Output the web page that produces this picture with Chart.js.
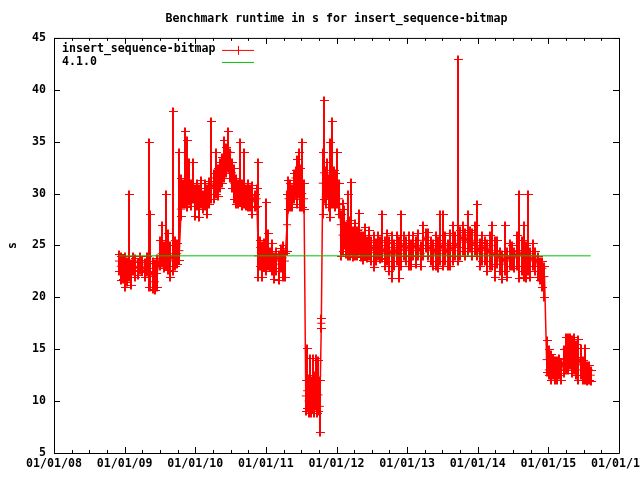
<!DOCTYPE html>
<html>
<head>
<meta charset="utf-8">
<title>Benchmark runtime in s for insert_sequence-bitmap</title>
<script src="https://cdn.jsdelivr.net/npm/chart.js@4.4.1/dist/chart.umd.min.js"></script>
<style>
  html, body { margin: 0; padding: 0; background: #fff; }
</style>
</head>
<body>
<canvas id="bench-chart" width="640" height="480"></canvas>
<script>
'use strict';

// *************** DATA (dates as decimal years)
let runYears = [
  2008.920, 2008.945, 2008.975, 2009.000, 2009.030, 2009.060, 2009.090, 2009.120, 2009.150, 2009.185,
  2009.215, 2009.250, 2009.285, 2009.320, 2009.345, 2009.365, 2009.400, 2009.430, 2009.460,
  2009.495, 2009.525, 2009.555, 2009.585, 2009.615, 2009.645, 2009.685, 2009.715, 2009.745, 2009.775,
  2009.800, 2009.830, 2009.860, 2009.885, 2009.910, 2009.940, 2009.965, 2009.995, 2010.020, 2010.050,
  2010.080, 2010.110, 2010.140, 2010.170, 2010.200,
  2010.230, 2010.260, 2010.290, 2010.320, 2010.350, 2010.380, 2010.410, 2010.440, 2010.465, 2010.490,
  2010.520, 2010.550, 2010.580,
  2010.610, 2010.630, 2010.660, 2010.690, 2010.720, 2010.750, 2010.780, 2010.810, 2010.840, 2010.870,
  2010.895, 2010.920, 2010.950, 2010.980, 2011.005, 2011.030, 2011.060, 2011.090, 2011.120, 2011.150,
  2011.180, 2011.210, 2011.240, 2011.270,
  2011.300, 2011.320, 2011.345, 2011.370, 2011.395, 2011.420, 2011.440, 2011.465, 2011.490, 2011.515,
  2011.540,
  2011.565, 2011.585, 2011.605, 2011.625, 2011.645, 2011.665, 2011.685, 2011.705, 2011.725, 2011.745,
  2011.765, 2011.785,
  2011.805, 2011.825, 2011.845, 2011.870, 2011.895, 2011.915, 2011.935, 2011.960, 2011.985, 2012.010,
  2012.035,
  2012.060, 2012.085, 2012.110, 2012.135, 2012.160, 2012.185, 2012.210, 2012.235, 2012.265, 2012.290,
  2012.315, 2012.345, 2012.375, 2012.405, 2012.435, 2012.465, 2012.495, 2012.525, 2012.555, 2012.585,
  2012.615,
  2012.645, 2012.680, 2012.715, 2012.750, 2012.785, 2012.820, 2012.855, 2012.890, 2012.915, 2012.950,
  2012.985, 2013.020, 2013.055, 2013.090, 2013.125, 2013.160, 2013.195, 2013.230, 2013.265, 2013.300,
  2013.335, 2013.370, 2013.405, 2013.440, 2013.470, 2013.505, 2013.540, 2013.575, 2013.610, 2013.645,
  2013.680, 2013.720, 2013.755, 2013.790, 2013.825, 2013.855, 2013.890, 2013.925, 2013.960, 2013.995,
  2014.030, 2014.065, 2014.100, 2014.135, 2014.170, 2014.205, 2014.240, 2014.275, 2014.310, 2014.345,
  2014.380, 2014.415, 2014.450, 2014.485, 2014.520, 2014.555, 2014.590, 2014.625, 2014.660, 2014.690,
  2014.715, 2014.745, 2014.780, 2014.815, 2014.850, 2014.885, 2014.915, 2014.945,
  2014.975, 2015.005, 2015.035, 2015.065, 2015.095, 2015.125, 2015.155, 2015.185, 2015.215, 2015.245,
  2015.275, 2015.305, 2015.335, 2015.365, 2015.395, 2015.425, 2015.455, 2015.485, 2015.515, 2015.545,
  2015.575, 2015.600
];

let runMean = [
  23.5, 23.0, 22.5, 23.2, 22.6, 23.0, 22.3, 23.4, 23.0, 22.8,
  23.5, 23.0, 22.6, 23.2, 22.8, 22.5, 22.0, 21.5, 22.3,
  24.0, 24.2, 23.8, 24.3, 24.0, 23.5, 24.2, 23.8, 24.2, 24.5,
  28.5, 30.0, 30.5, 29.5, 30.8, 29.8, 30.5, 29.2, 30.0, 29.5,
  30.2, 29.3, 30.0, 29.5, 30.5,
  30.5, 31.0, 31.5, 31.0, 32.0, 32.5, 33.0, 33.5, 34.0, 33.0,
  32.0, 31.0, 30.5,
  30.0, 30.8, 29.8, 30.2, 29.5, 30.0, 29.3, 29.8, 29.2, 29.5,
  24.0, 24.8, 23.5, 24.2, 23.8, 24.5, 23.5, 24.0, 23.2, 24.0,
  23.5, 24.2, 23.8, 23.5,
  27.0, 29.5, 30.2, 29.5, 30.8, 31.5, 30.5, 32.0, 31.0, 30.0,
  29.5,
  10.5, 11.0, 10.0, 10.8, 9.8, 10.5, 10.2, 11.0, 10.0, 10.6,
  9.5, 17.5,
  31.0, 32.0, 31.0, 32.0, 30.0, 29.5, 30.5, 31.5, 30.0, 31.0,
  29.5,
  27.0, 26.0, 27.0, 25.5, 26.5, 25.5, 26.0, 25.0, 26.0, 25.2,
  26.5, 25.0, 24.5, 25.5, 24.8, 25.3, 24.5, 25.0, 24.3, 25.0,
  24.5,
  25.0, 24.2, 25.3, 24.0, 24.8, 24.0, 25.0, 24.2, 24.6, 25.2,
  24.5, 25.0, 24.0, 25.2, 24.5, 25.0, 24.2, 25.5, 25.8, 25.0,
  24.5, 24.0, 25.0, 24.2, 25.2, 24.5, 25.0, 24.0, 25.0, 24.5,
  25.2, 24.8, 25.5, 26.0, 25.3, 25.8, 26.0, 25.0, 25.5, 25.0,
  24.2, 25.0, 24.5, 24.0, 25.0, 24.3, 24.0, 24.5, 23.5, 23.2,
  24.0, 23.5, 24.0, 24.0, 23.8, 24.5, 24.0, 24.5, 24.0, 23.5,
  24.2, 23.5, 24.0, 24.0, 23.0, 22.5, 22.8, 22.0,
  14.0, 13.0, 13.5, 13.0, 13.2, 12.8, 13.5, 13.0, 14.0, 15.0,
  14.5, 15.2, 14.0, 14.8, 14.0, 13.5, 14.2, 13.0, 13.5, 12.8,
  13.0, 12.5
];

let runMin = [
  22.5, 21.7, 21.8, 21.0, 21.5, 22.0, 21.2, 22.5, 22.0, 22.2,
  22.6, 22.5, 22.0, 22.4, 21.0, 21.0, 20.8, 20.7, 21.0,
  23.0, 23.3, 22.8, 23.0, 22.6, 22.0, 22.5, 23.0, 23.2, 23.6,
  27.8, 29.0, 29.0, 28.7, 29.3, 28.8, 29.5, 27.8, 28.8, 27.7,
  29.0, 28.5, 28.8, 28.0, 29.0,
  29.5, 29.5, 30.0, 29.8, 30.5, 31.0, 31.5, 32.0, 32.5, 31.5,
  30.5, 29.5, 29.0,
  29.0, 29.2, 28.8, 29.0, 28.8, 28.7, 28.7, 28.0, 28.7, 28.8,
  22.0, 23.0, 22.0, 22.9, 22.5, 23.0, 22.9, 22.5, 21.8, 22.5,
  21.7, 22.8, 22.0, 22.0,
  24.5, 28.5, 28.7, 28.7, 29.5, 30.0, 29.0, 30.0, 28.7, 28.7,
  28.5,
  9.0, 9.3, 8.9, 9.0, 8.9, 9.2, 8.9, 9.5, 8.9, 9.0,
  7.0, 17.0,
  28.0, 29.5, 29.0, 30.0, 28.7, 27.7, 29.0, 29.0, 28.7, 29.0,
  28.0,
  24.0, 24.5, 25.0, 24.2, 24.0, 24.0, 24.5, 23.9, 24.0, 24.0,
  24.5, 23.9, 23.6, 24.0, 23.8, 24.0, 23.5, 22.9, 23.5, 24.0,
  23.7,
  23.8, 23.0, 23.5, 22.5, 21.9, 23.0, 23.5, 21.9, 23.0, 24.0,
  23.5, 23.0, 23.0, 24.0, 23.2, 24.0, 23.0, 24.0, 24.8, 24.0,
  23.5, 23.0, 23.0, 22.8, 23.5, 23.0, 23.5, 23.0, 23.0, 23.5,
  24.0, 23.5, 24.0, 24.5, 24.0, 24.5, 24.8, 24.0, 24.5, 24.0,
  23.0, 23.5, 23.5, 22.5, 23.0, 23.0, 22.0, 23.2, 22.5, 21.8,
  22.5, 22.0, 23.0, 23.0, 22.8, 23.0, 21.9, 22.5, 22.0, 21.9,
  22.5, 22.0, 23.0, 22.5, 22.0, 21.7, 21.0, 20.0,
  12.8, 12.5, 12.0, 12.5, 12.0, 12.0, 12.5, 12.0, 12.7, 13.0,
  13.0, 13.5, 12.7, 13.0, 12.5, 12.0, 12.5, 12.0, 12.0, 11.9,
  12.0, 11.9
];

let runMax = [
  24.2, 24.0, 23.8, 24.0, 23.5, 30.0, 23.3, 24.0, 23.8, 23.4,
  24.0, 23.6, 23.4, 24.0, 35.0, 28.0, 23.5, 23.3, 23.8,
  25.5, 27.0, 25.0, 30.0, 26.2, 25.0, 38.0, 25.5, 25.2, 34.0,
  31.5, 31.0, 36.0, 35.2, 33.0, 31.0, 33.0, 30.5, 31.0, 30.5,
  31.3, 30.0, 31.0, 30.5, 31.2,
  37.0, 32.0, 34.0, 32.5, 33.0, 33.5, 35.2, 34.5, 36.0, 34.0,
  33.0, 32.5, 31.5,
  31.0, 35.0, 31.0, 34.0, 30.5, 31.0, 30.5, 30.8, 30.0, 30.5,
  33.0, 25.5, 25.0, 25.3, 29.2, 26.2, 24.5, 25.2, 24.0, 24.5,
  24.2, 24.8, 25.0, 24.3,
  30.0, 31.3, 31.0, 30.5, 32.0, 32.3, 33.3, 34.0, 32.5, 35.0,
  31.0,
  12.0, 15.1, 12.2, 14.2, 12.0, 14.2, 12.5, 14.2, 12.0, 14.0,
  12.0, 18.0,
  34.0, 39.0, 32.3, 33.0, 31.5, 35.0, 37.0, 32.3, 32.0, 34.0,
  31.0,
  28.0, 29.1, 28.5, 27.0, 30.0, 27.5, 31.1, 26.5, 27.2, 26.5,
  28.1, 26.0, 26.0, 26.8, 25.5, 26.5, 25.5, 26.0, 25.3, 26.0,
  25.5,
  28.0, 25.5, 26.2, 25.5, 26.0, 25.2, 26.0, 25.5, 28.0, 26.0,
  25.5, 26.0, 25.2, 26.0, 25.5, 26.2, 25.0, 27.0, 26.3, 26.3,
  25.5, 25.2, 26.0, 25.5, 28.0, 28.0, 26.0, 25.2, 26.2, 27.0,
  26.0, 43.0, 26.5, 27.0, 26.3, 28.0, 26.5, 26.3, 27.0, 29.0,
  25.3, 26.0, 25.5, 25.2, 26.0, 27.0, 25.5, 25.5, 24.5, 24.2,
  27.0, 24.5, 25.2, 25.0, 24.5, 26.0, 30.0, 25.5, 27.0, 25.0,
  30.0, 24.5, 25.2, 24.5, 24.0, 23.5, 23.5, 23.0,
  15.9, 15.0, 14.5, 14.2, 14.0, 14.0, 14.2, 13.8, 15.0, 16.2,
  16.2, 16.2, 16.0, 16.2, 15.5, 16.0, 15.1, 14.0, 15.1, 13.5,
  13.5, 13.0
];

// release 4.1.0 reference runtime
let baselineValue = 24;

// tick labels
let yearTicks = [2008, 2009, 2010, 2011, 2012, 2013, 2014, 2015, 2016];
let valueTicks = [5, 10, 15, 20, 25, 30, 35, 40, 45];

// *************** STYLE
const RED = '#ff0000';
const GREEN = '#00c000';
const FONT = { family: '"DejaVu Sans Mono", "Liberation Mono", monospace', size: 11.6, weight: 'bold' };
const FONT_CSS = 'bold 11.6px "DejaVu Sans Mono", "Liberation Mono", monospace';

let ctx = document.getElementById('bench-chart');

// *************** PLUGINS

// min/max bars with + caps, under the lines
const errorBars = {
  id: 'errorBars',
  beforeDatasetsDraw(chart) {
    let c = chart.ctx;
    let x = chart.scales.x;
    let y = chart.scales.y;
    c.save();
    c.strokeStyle = RED;
    // vertical bars a bit heavier so dense runs fill in like the gnuplot png
    c.lineWidth = 2;
    c.beginPath();
    for (let i = 0; i < runYears.length; i++) {
      let px = Math.round(x.getPixelForValue(runYears[i]));
      let top = Math.round(y.getPixelForValue(runMax[i])) + 0.5;
      let bot = Math.round(y.getPixelForValue(runMin[i])) + 0.5;
      c.moveTo(px, top - 4);
      c.lineTo(px, bot + 4);
    }
    c.stroke();
    c.lineWidth = 1;
    c.beginPath();
    for (let i = 0; i < runYears.length; i++) {
      let px = Math.round(x.getPixelForValue(runYears[i]));
      let top = Math.round(y.getPixelForValue(runMax[i])) + 0.5;
      let bot = Math.round(y.getPixelForValue(runMin[i])) + 0.5;
      c.moveTo(px - 4, top);
      c.lineTo(px + 5, top);
      c.moveTo(px - 4, bot);
      c.lineTo(px + 5, bot);
    }
    c.stroke();
    c.restore();
  }
};

// gnuplot style frame: border box, inward tics mirrored, key in top left
const frameAndKey = {
  id: 'frameAndKey',
  afterDraw(chart) {
    let c = chart.ctx;
    let a = chart.chartArea;
    let x = chart.scales.x;
    let y = chart.scales.y;
    c.save();
    c.strokeStyle = '#000';
    c.lineWidth = 1;
    c.beginPath();
    c.rect(a.left + 0.5, a.top + 0.5, a.right - a.left, a.bottom - a.top);

    for (let i = 0; i < yearTicks.length; i++) {
      let yr = yearTicks[i];
      let px = Math.round(x.getPixelForValue(yr)) + 0.5;
      c.moveTo(px, a.bottom); c.lineTo(px, a.bottom - 6);
      c.moveTo(px, a.top); c.lineTo(px, a.top + 6);
      if (i < yearTicks.length - 1) {
        for (let q = 1; q < 4; q++) {
          let mx = Math.round(x.getPixelForValue(yr + q / 4)) + 0.5;
          c.moveTo(mx, a.bottom); c.lineTo(mx, a.bottom - 3);
          c.moveTo(mx, a.top); c.lineTo(mx, a.top + 3);
        }
      }
    }
    for (let v of valueTicks) {
      let py = Math.round(y.getPixelForValue(v)) + 0.5;
      c.moveTo(a.left, py); c.lineTo(a.left + 6, py);
      c.moveTo(a.right, py); c.lineTo(a.right - 6, py);
    }
    c.stroke();

    // key
    let kx = a.left + 8;
    c.font = FONT_CSS;
    c.fillStyle = '#000';
    c.textAlign = 'left';
    c.textBaseline = 'middle';
    c.fillText('insert_sequence-bitmap', kx, a.top + 11);
    c.fillText('4.1.0', kx, a.top + 24);

    c.beginPath();
    c.strokeStyle = RED;
    c.moveTo(a.left + 168, a.top + 12.5); c.lineTo(a.left + 200, a.top + 12.5);
    c.moveTo(a.left + 184.5, a.top + 8); c.lineTo(a.left + 184.5, a.top + 17);
    c.stroke();
    c.beginPath();
    c.strokeStyle = GREEN;
    c.moveTo(a.left + 168, a.top + 24.5); c.lineTo(a.left + 200, a.top + 24.5);
    c.stroke();
    c.restore();
  }
};

// *************** CHART
function yearLabel(value) {
  return '01/01/' + String(value % 100).padStart(2, '0');
}

let meanPoints = [];
for (let i = 0; i < runYears.length; i++) {
  meanPoints.push({ x: runYears[i], y: runMean[i] });
}
let baselinePoints = [
  { x: runYears[0], y: baselineValue },
  { x: runYears[runYears.length - 1], y: baselineValue }
];

Chart.defaults.color = '#000';
Chart.defaults.font = FONT;

new Chart(ctx, { // eslint-disable-line
  type: 'line',
  data: {
    datasets: [{
      label: '4.1.0',
      data: baselinePoints,
      borderColor: GREEN,
      borderWidth: 1,
      pointRadius: 0,
      order: 0
    },
    {
      label: 'insert_sequence-bitmap',
      data: meanPoints,
      borderColor: RED,
      borderWidth: 1.5,
      pointStyle: 'cross',
      pointRadius: 4,
      pointBorderColor: RED,
      pointBorderWidth: 1,
      order: 1
    }]
  },
  options: {
    responsive: false,
    animation: false,
    devicePixelRatio: 1,
    events: [],
    layout: { padding: { left: 0, right: 21, top: 0, bottom: 0 } },
    plugins: {
      legend: { display: false },
      tooltip: { enabled: false },
      title: {
        display: true,
        fullSize: false,
        text: 'Benchmark runtime in s for insert_sequence-bitmap',
        font: FONT,
        color: '#000',
        padding: { top: 12, bottom: 12 }
      }
    },
    scales: {
      x: {
        type: 'linear',
        min: 2008,
        max: 2016,
        grid: { display: false, drawTicks: false },
        border: { display: false },
        afterBuildTicks: (s) => { s.ticks = yearTicks.map(v => ({ value: v })); },
        afterFit: (s) => { s.height = 27; s.paddingLeft = 0; s.paddingRight = 0; },
        ticks: {
          autoSkip: false,
          maxRotation: 0,
          padding: 4,
          font: FONT,
          color: '#000',
          callback: (v) => yearLabel(v)
        }
      },
      y: {
        min: 5,
        max: 45,
        grid: { display: false, drawTicks: false },
        border: { display: false },
        afterBuildTicks: (s) => { s.ticks = valueTicks.map(v => ({ value: v })); },
        afterFit: (s) => { s.width = 54; s.paddingTop = 0; s.paddingBottom = 0; },
        title: {
          display: true,
          text: 's',
          font: FONT,
          color: '#000',
          padding: { top: 6, bottom: 0 }
        },
        ticks: {
          padding: 8,
          font: FONT,
          color: '#000'
        }
      }
    }
  },
  plugins: [errorBars, frameAndKey]
});
</script>
</body>
</html>
